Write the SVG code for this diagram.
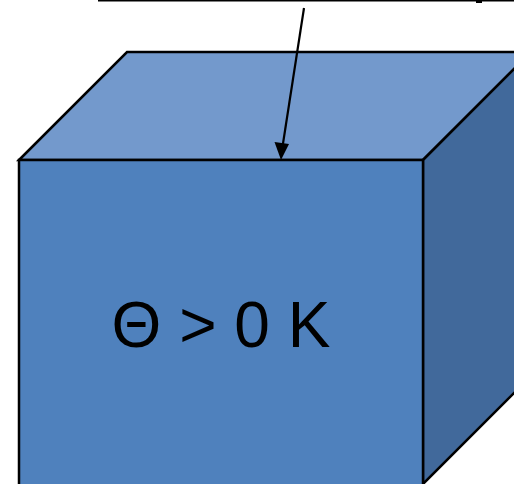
<svg xmlns="http://www.w3.org/2000/svg" width="514" height="484" viewBox="0 0 514 484">
<defs>
<style>
.face{stroke:#000;stroke-width:2.5;stroke-linejoin:miter}
.lbl{font-family:"Liberation Sans",Arial,sans-serif;font-size:64px;fill:#000}
</style>
</defs>
<rect width="514" height="484" fill="#fff"/>
<g id="topline">
<line x1="98" y1="0.5" x2="514" y2="0.5" stroke="#000" stroke-width="2"/>
<rect x="476" y="0" width="6" height="3" fill="#000"/>
</g>
<g id="cube">
<polygon class="face" points="19,160 127,52 531,52 423,160" fill="#7399CC"/>
<polygon class="face" points="423,160 531,52 531,376 423,484" fill="#41699B"/>
<rect class="face" x="19" y="160" width="404" height="330" fill="#4F81BD"/>
<text class="lbl" x="221" y="347" text-anchor="middle">Θ &gt; 0 K</text>
</g>
<g id="connectors">
<line x1="304" y1="8" x2="282" y2="150" stroke="#000" stroke-width="2.2"/>
<path d="M281,160 L274.5,142 L289,144 z" fill="#000"/>
</g>
</svg>
